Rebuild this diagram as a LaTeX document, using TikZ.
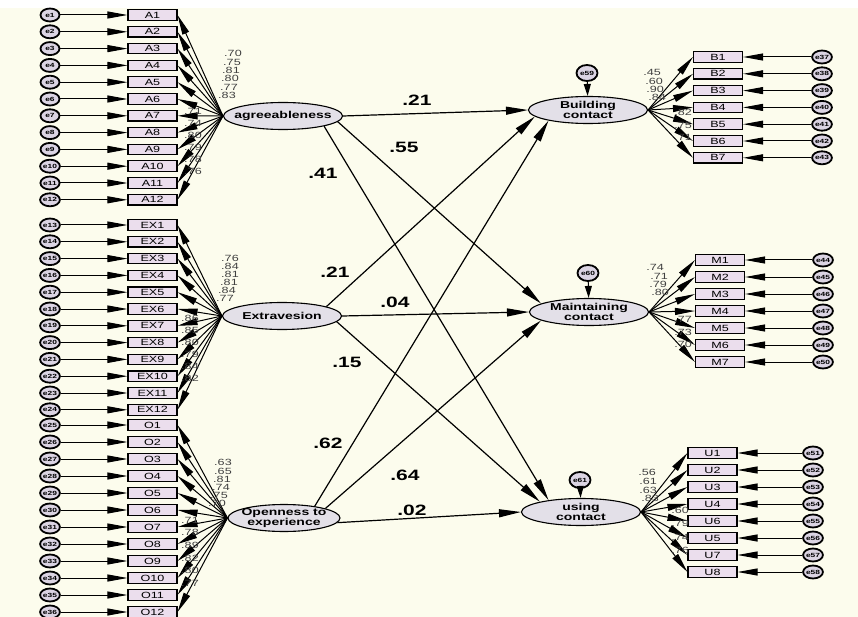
\documentclass[tikz,border=0pt]{standalone}
\usepackage{fontspec}
\setmainfont{Liberation Sans}[FakeStretch=1.4]
\usetikzlibrary{arrows.meta,shapes.geometric,positioning}
\tikzset{
  >={Triangle[length=20pt,width=7pt]}
}
\begin{document}
\begin{tikzpicture}[x=1pt,y=-1pt]

  % COLORS
  \definecolor{bgcolor_sem}{rgb}{ 0.99 0.99 0.93 }
  \definecolor{boxcolor_sem}{rgb}{ 0.92 0.87 0.93 }
  \definecolor{latentcolor_sem}{rgb}{ 0.89 0.88 0.91 }
  \definecolor{errcolor_sem}{rgb}{ 0.86 0.83 0.89 }

  % BACKGROUND
  \useasboundingbox (0,0) rectangle (858,617);
  \fill[white] (0,0) rectangle (858,8);
  \fill[bgcolor_sem] (0,8) rectangle (858,617);

  % DEF STYLES
  \tikzstyle{boxstyle_sem} = [draw, line width=1.1pt, fill=boxcolor_sem, minimum width=49pt, minimum height=10.5pt, inner sep=0pt, font=\fontsize{9}{9}\selectfont]
  \tikzstyle{latentstyle_sem} = [ellipse, draw, line width=1.1pt, fill=latentcolor_sem, minimum width=119pt, minimum height=27pt, inner xsep=-45pt, inner ysep=-2pt, align=center, font=\bfseries\fontsize{10}{10.5}\selectfont]
  \tikzstyle{errstyle_sem} = [ellipse, draw, line width=1.8pt, fill=errcolor_sem, minimum width=19pt, minimum height=13pt, inner sep=0pt, font=\bfseries\fontsize{6}{6}\selectfont]
  \tikzstyle{resstyle_sem} = [errstyle_sem, minimum width=21pt, minimum height=16pt]
  \tikzstyle{pathstyle_sem} = [->, line width=1pt]
  \tikzstyle{structstyle_sem} = [-{Triangle[length=22pt,width=8pt]}, line width=1.2pt]
  \tikzstyle{weightstyle_sem} = [font=\bfseries\fontsize{15}{15}\selectfont, inner sep=0pt]
  \tikzstyle{loadstyle_sem} = [font=\fontsize{9}{9}\selectfont, inner sep=0pt, text=black!75]

  % LATENTS
  \node[latentstyle_sem] (agree) at (283,116) {agreeableness};
  \node[latentstyle_sem] (extra) at (282,316) {Extravesion};
  \node[latentstyle_sem, minimum width=112pt] (open) at (284,518) {Openness to\\experience};
  \node[latentstyle_sem] (build) at (588,110) {Building\\contact};
  \node[latentstyle_sem] (maint) at (589,312) {Maintaining\\contact};
  \node[latentstyle_sem] (using) at (581,512) {using\\contact};

  % RESIDUALS
  \node[resstyle_sem] (e59) at (587,73) {e59};
  \node[resstyle_sem] (e60) at (588,273) {e60};
  \node[resstyle_sem] (e61) at (580,480) {e61};
  \foreach \r/\t in {e59/build,e60/maint,e61/using} {
    \draw[pathstyle_sem, -{Triangle[length=12pt,width=7pt]}] (\r) -- (\t);
  }

  % INDICATORS LEFT
  \foreach \i [evaluate=\i as \y using 15+16.8*(\i-1)] in {1,...,12} {
    \node[errstyle_sem] (eA\i) at (50,\y) {e\i};
    \node[boxstyle_sem] (A\i) at (152.5,\y) {A\i};
    \draw[pathstyle_sem] (eA\i) -- (A\i);
    \draw[pathstyle_sem] (agree.west) -- (A\i.east);
  }
  \foreach \i [evaluate=\i as \y using 225+16.8*(\i-1), evaluate=\i as \n using int(\i+12)] in {1,...,12} {
    \node[errstyle_sem] (eEX\i) at (50,\y) {e\n};
    \node[boxstyle_sem] (EX\i) at (152.5,\y) {EX\i};
    \draw[pathstyle_sem] (eEX\i) -- (EX\i);
    \draw[pathstyle_sem] (extra.west) -- (EX\i.east);
  }
  \foreach \i [evaluate=\i as \y using 425+17*(\i-1), evaluate=\i as \n using int(\i+24)] in {1,...,12} {
    \node[errstyle_sem] (eO\i) at (50,\y) {e\n};
    \node[boxstyle_sem] (O\i) at (152.5,\y) {O\i};
    \draw[pathstyle_sem] (eO\i) -- (O\i);
    \draw[pathstyle_sem] (open.west) -- (O\i.east);
  }

  % INDICATORS RIGHT
  \foreach \i [evaluate=\i as \y using 57+16.8*(\i-1), evaluate=\i as \n using int(\i+36)] in {1,...,7} {
    \node[boxstyle_sem] (B\i) at (718,\y) {B\i};
    \node[errstyle_sem] (eB\i) at (822,\y) {e\n};
    \draw[pathstyle_sem] (eB\i) -- (B\i);
    \draw[pathstyle_sem] (build.east) -- (B\i.west);
  }
  \foreach \i [evaluate=\i as \y using 260+17*(\i-1), evaluate=\i as \n using int(\i+43)] in {1,...,7} {
    \node[boxstyle_sem] (M\i) at (720,\y) {M\i};
    \node[errstyle_sem] (eM\i) at (823,\y) {e\n};
    \draw[pathstyle_sem] (eM\i) -- (M\i);
    \draw[pathstyle_sem] (maint.east) -- (M\i.west);
  }
  \foreach \i/\t [evaluate=\i as \y using 453+17*(\i-1), evaluate=\i as \n using int(\i+50)] in {1/1,2/2,3/3,4/4,5/6,6/5,7/7,8/8} {
    \node[boxstyle_sem] (U\i) at (712.5,\y) {U\t};
    \node[errstyle_sem] (eU\i) at (813,\y) {e\n};
    \draw[pathstyle_sem] (eU\i) -- (U\i);
    \draw[pathstyle_sem] (using.east) -- (U\i.west);
  }

  % STRUCTURAL PATHS
  \draw[structstyle_sem] (agree.east) -- (build.west);
  \draw[structstyle_sem] (agree.-6) -- (maint.170);
  \draw[structstyle_sem] (agree.-14) -- (using.160);
  \draw[structstyle_sem] (extra.12) -- (build.187);
  \draw[structstyle_sem] (extra.east) -- (maint.west);
  \draw[structstyle_sem] (extra.-6) -- (using.166);
  \draw[structstyle_sem] (open.21) -- (build.195);
  \draw[structstyle_sem] (open.13) -- (maint.190);
  \draw[structstyle_sem] (open.-5) -- (using.west);

  % WEIGHTS
  \foreach \v/\x/\y [count=\n] in {.21/417/100,.55/404/147,.41/323/173,.21/335/272,.04/395/302,.15/347/362,.62/328/443,.64/405/475,.02/412/510} {
    \node[weightstyle_sem] (w\n) at (\x,\y) {\v};
  }

  % LOADINGS
  \foreach \v/\x/\y [count=\n] in {
      .70/233/53,.75/232/62,.81/231/70,.80/230/78,.77/229/87,.83/227/95,
      .71/193/111,.74/193/123,.80/193/135,.79/193/147,.78/193/159,.76/193/171,
      .76/230/258,.84/230/266,.81/230/274,.81/229/282,.84/227/290,.77/225/298,
      .86/190/318,.85/190/330,.80/190/342,.79/190/354,.84/190/366,.82/190/378,
      .63/223/462,.65/223/471,.81/222/479,.74/221/487,.75/219/495,.70/217/503,
      .71/190/520,.78/190/532,.89/190/545,.82/190/558,.80/190/570,.77/190/583,
      .45/652/72,.60/654/81,.90/655/89,.84/657/97,.82/683/112,.75/683/125,.71/683/137,
      .74/655/267,.71/659/276,.79/658/284,.80/660/292,.77/683/319,.73/683/332,.70/683/344,
      .56/647/472,.61/648/481,.63/648/490,.83/650/498,.60/680/510,.79/680/523,.74/680/537,.76/680/550} {
    \node[loadstyle_sem] (l\n) at (\x,\y) {\v};
  }

\end{tikzpicture}
\end{document}
